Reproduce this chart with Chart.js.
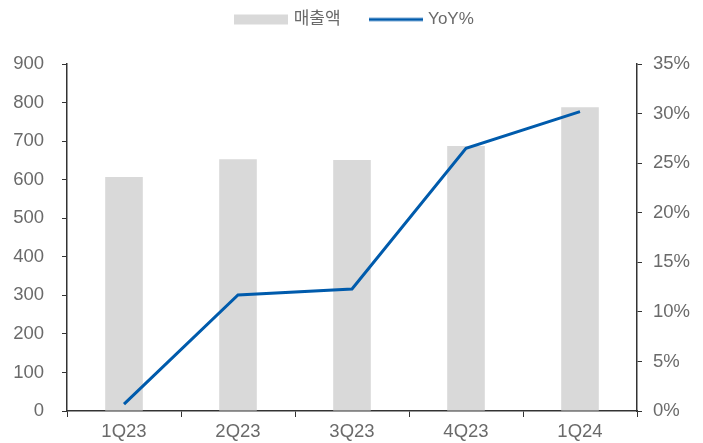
<!DOCTYPE html>
<html><head><meta charset="utf-8">
<script src="https://cdn.jsdelivr.net/npm/chart.js@4"></script>
<style>html,body{margin:0;padding:0;background:#fff}#wrap{width:703px;height:443px}</style>
</head><body><div id="wrap"><canvas id="c" width="703" height="443"></canvas></div>
<script>
const categories = ['1Q23','2Q23','3Q23','4Q23','1Q24'];
const revenue = [607, 653, 651, 687, 788];
const yoy = [0.7, 11.7, 12.3, 26.5, 30.2];
const leftTicks = [0,100,200,300,400,500,600,700,800,900];
const rightTicks = [0,5,10,15,20,25,30,35];

const FAM = '"Liberation Sans", "Noto Sans CJK KR", sans-serif';
const FONT = {family: FAM, size: 18.5};
const LFONT = {family: FAM, size: 17};
const TXT = '#6a6a6a';
const BAR = '#D9D9D9';
const LINE = '#005BAC';
const AX = '#333';

function mk(draw){const c=document.createElement('canvas');c.width=54;c.height=12;draw(c.getContext('2d'));return c;}
const barIcon = mk(g=>{g.fillStyle=BAR;g.fillRect(0,1,54,10);});
const lineIcon = mk(g=>{g.strokeStyle=LINE;g.lineWidth=3;g.beginPath();g.moveTo(0,6);g.lineTo(54,6);g.stroke();});

new Chart(document.getElementById('c'), {
  data: {
    labels: categories,
    datasets: [
      {type:'line', label:'YoY%', data: yoy, yAxisID:'y2', borderColor: LINE, borderWidth: 3, pointRadius: 0, tension: 0, order: 0},
      {type:'bar', label:'매출액', data: revenue, yAxisID:'y', backgroundColor: BAR, barPercentage: 0.66, categoryPercentage: 0.5, order: 1}
    ]
  },
  options: {
    responsive: false, animation: false,
    layout: {padding: 0},
    plugins: {
      tooltip: {enabled: false},
      legend: {
        position: 'top',
        reverse: true,
        labels: {
          usePointStyle: true, pointStyleWidth: 48, boxHeight: 12,
          padding: 31, color: TXT, font: LFONT,
          generateLabels: (chart) => chart.data.datasets.map((d,i)=>({
            text: d.label, pointStyle: d.type==='bar'?barIcon:lineIcon,
            fillStyle: 'transparent', strokeStyle:'transparent', lineWidth:0,
            fontColor: TXT, datasetIndex: i, hidden: false
          }))
        }
      }
    },
    scales: {
      x: {
        type: 'category',
        grid: {display: true, drawOnChartArea: false, drawTicks: true, tickLength: 6, color: AX, offset: true},
        border: {display: true, color: AX, width: 1.5},
        ticks: {color: TXT, font: FONT, padding: 4, maxRotation: 0},
        afterFit: s => { s.height = 32; }
      },
      y: {
        position: 'left', min: 0, max: 900,
        afterBuildTicks: s => { s.ticks = leftTicks.map(v=>({value:v})); },
        grid: {display: true, drawOnChartArea: false, drawTicks: true, tickLength: 5, color: AX},
        border: {display: true, color: AX, width: 1.5},
        ticks: {color: TXT, font: FONT, padding: 18},
        afterFit: s => { s.width = 67; }
      },
      y2: {
        position: 'right', min: 0, max: 35,
        afterBuildTicks: s => { s.ticks = rightTicks.map(v=>({value:v})); },
        grid: {display: true, drawOnChartArea: false, drawTicks: true, tickLength: 5, color: AX},
        border: {display: true, color: AX, width: 1.5},
        ticks: {color: TXT, font: FONT, padding: 11, callback: v => v + '%'},
        afterFit: s => { s.width = 66; }
      }
    }
  },
  plugins: [{
    id: 'legendH',
    afterInit(chart){
      const lg = chart.legend;
      if (!lg) return;
      const f = lg.fit.bind(lg);
      lg.fit = function(){ f(); this.height = 64; };
      const d = lg.draw.bind(lg);
      lg.draw = function(){ const ctx = this.ctx; ctx.save(); ctx.translate(4, -20); d(); ctx.restore(); };
    }
  }]
});
</script>
</body></html>
